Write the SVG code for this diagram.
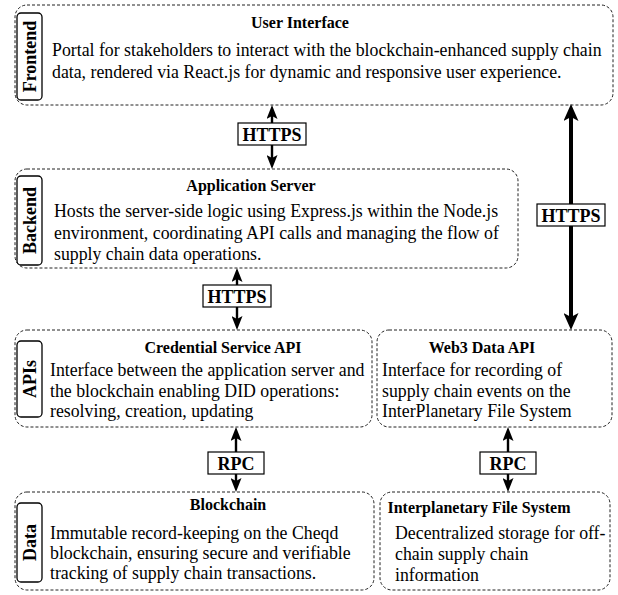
<svg xmlns="http://www.w3.org/2000/svg" width="618" height="595" viewBox="0 0 618 595">
<style>
.box{fill:#fff;stroke:#222;stroke-width:1;stroke-dasharray:3 2}
.lab{fill:#fff;stroke:#000;stroke-width:1.3}
.labt{font-family:"Liberation Serif","Times New Roman",serif;font-size:18px;font-weight:bold;fill:#000;text-anchor:middle}
.title{font-family:"Liberation Serif","Times New Roman",serif;font-size:16px;font-weight:bold;fill:#000;text-anchor:middle}
.body{font-family:"Liberation Serif","Times New Roman",serif;font-size:17.8px;fill:#000}
.tag{fill:#fff;stroke:#000;stroke-width:1.2}
.tagt{font-family:"Liberation Serif","Times New Roman",serif;font-size:18px;font-weight:bold;fill:#000;text-anchor:middle}
.arr{stroke:#000;stroke-width:2.4;fill:none;marker-start:url(#ah);marker-end:url(#ah)}
.arrb{stroke:#000;stroke-width:4;fill:none;marker-start:url(#ahb);marker-end:url(#ahb)}
</style>
<defs>
<marker id="ah" viewBox="0 0 14 11" markerWidth="14" markerHeight="11" markerUnits="userSpaceOnUse" refX="4" refY="5.5" orient="auto-start-reverse">
<path d="M0,0 L14,5.5 L0,11 L3,5.5 z" fill="#000"/>
</marker>
<marker id="ahb" viewBox="0 0 17 15" markerWidth="17" markerHeight="15" markerUnits="userSpaceOnUse" refX="5" refY="7.5" orient="auto-start-reverse">
<path d="M0,0 L17,7.5 L0,15 L4,7.5 z" fill="#000"/>
</marker>
</defs>

<g id="frontend">
<rect class="box" x="15" y="5" width="598" height="100" rx="12"/>
<rect class="lab" x="17" y="13" width="25" height="87" rx="4"/>
<text class="labt" transform="translate(29.5,56.5) rotate(-90)" x="0" y="6">Frontend</text>
<text class="title" x="300" y="28">User Interface</text>
<text class="body" x="52" y="56">Portal for stakeholders to interact with the blockchain-enhanced supply chain</text>
<text class="body" x="52" y="78">data, rendered via React.js for dynamic and responsive user experience.</text>
</g>

<g id="backend">
<rect class="box" x="15" y="169" width="503" height="99" rx="12"/>
<rect class="lab" x="17" y="176" width="25" height="89" rx="4"/>
<text class="labt" transform="translate(29.5,220.5) rotate(-90)" x="0" y="6">Backend</text>
<text class="title" x="251" y="191">Application Server</text>
<text class="body" x="54" y="217">Hosts the server-side logic using Express.js within the Node.js</text>
<text class="body" x="54" y="239">environment, coordinating API calls and managing the flow of</text>
<text class="body" x="54" y="260">supply chain data operations.</text>
</g>

<g id="credential-api">
<rect class="box" x="15" y="330" width="357" height="97" rx="12"/>
<rect class="lab" x="17" y="341" width="25" height="76" rx="4"/>
<text class="labt" transform="translate(29.5,379) rotate(-90)" x="0" y="6">APIs</text>
<text class="title" x="223" y="353">Credential Service API</text>
<text class="body" x="50" y="376">Interface between the application server and</text>
<text class="body" x="50" y="397">the blockchain enabling DID operations:</text>
<text class="body" x="50" y="417">resolving, creation, updating</text>
</g>

<g id="web3-api">
<rect class="box" x="377" y="330" width="235" height="97" rx="12"/>
<text class="title" x="482" y="353">Web3 Data API</text>
<text class="body" x="382" y="376">Interface for recording of</text>
<text class="body" x="382" y="397">supply chain events on the</text>
<text class="body" x="382" y="417">InterPlanetary File System</text>
</g>

<g id="blockchain">
<rect class="box" x="15" y="492" width="359" height="98" rx="12"/>
<rect class="lab" x="17" y="503" width="25" height="79" rx="4"/>
<text class="labt" transform="translate(29.5,542.5) rotate(-90)" x="0" y="6">Data</text>
<text class="title" x="228" y="510">Blockchain</text>
<text class="body" x="50" y="539">Immutable record-keeping on the Cheqd</text>
<text class="body" x="50" y="559">blockchain, ensuring secure and verifiable</text>
<text class="body" x="50" y="579">tracking of supply chain transactions.</text>
</g>

<g id="ipfs">
<rect class="box" x="380" y="492" width="230" height="98" rx="12"/>
<text class="title" x="479" y="513">Interplanetary File System</text>
<text class="body" x="395" y="539">Decentralized storage for off-</text>
<text class="body" x="395" y="560">chain supply chain</text>
<text class="body" x="395" y="581">information</text>
</g>

<g id="connectors">
<line class="arr" x1="272" y1="115" x2="272" y2="159"/>
<rect class="tag" x="238" y="123" width="68" height="22"/>
<text class="tagt" x="272" y="140.5">HTTPS</text>

<line class="arr" x1="237" y1="278" x2="237" y2="320"/>
<rect class="tag" x="203" y="285" width="68" height="22"/>
<text class="tagt" x="237" y="302.5">HTTPS</text>

<line class="arrb" x1="571" y1="116" x2="571" y2="318"/>
<rect class="tag" x="537" y="204" width="68" height="22"/>
<text class="tagt" x="571" y="221.5">HTTPS</text>

<line class="arr" x1="236" y1="437" x2="236" y2="482"/>
<rect class="tag" x="208" y="452" width="56" height="22"/>
<text class="tagt" x="236" y="469.5">RPC</text>

<line class="arr" x1="508" y1="437" x2="508" y2="482"/>
<rect class="tag" x="480" y="452" width="56" height="22"/>
<text class="tagt" x="508" y="469.5">RPC</text>
</g>
</svg>
